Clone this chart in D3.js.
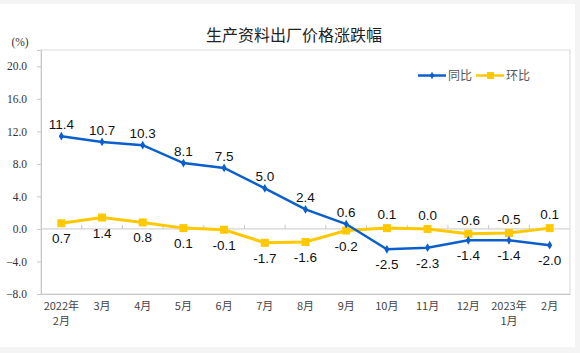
<!DOCTYPE html>
<html>
<head>
<meta charset="utf-8">
<script src="https://cdn.jsdelivr.net/npm/d3@7"></script>
<style>
  body { margin: 0; background: #f4f4f4; }
  svg { display: block; }
</style>
</head>
<body>
<svg id="chart"></svg>
<script>
const width = 580;
const height = 353;
const margin = { top: 50, right: 10, bottom: 59, left: 41 };

const months = [["2022年", "2月"], ["3月"], ["4月"], ["5月"], ["6月"], ["7月"], ["8月"], ["9月"], ["10月"], ["11月"], ["12月"], ["2023年", "1月"], ["2月"]];
const yoy = [11.4, 10.7, 10.3, 8.1, 7.5, 5.0, 2.4, 0.6, -2.5, -2.3, -1.4, -1.4, -2.0];
const mom = [0.7, 1.4, 0.8, 0.1, -0.1, -1.7, -1.6, -0.2, 0.1, 0.0, -0.6, -0.5, 0.1];
const yTicks = [-8, -4, 0, 4, 8, 12, 16, 20];

const blue = "#0b5fcc";
const yellow = "#ffc800";

const svg = d3.select("#chart")
  .attr("width", width)
  .attr("height", height);

// white card
svg.append("rect")
  .attr("x", 0).attr("y", 4)
  .attr("width", 575).attr("height", 343)
  .attr("fill", "#fff");

const x = d3.scaleBand()
  .domain(d3.range(months.length))
  .range([margin.left, width - margin.right]);

const y = d3.scaleLinear()
  .domain([-8, 22])
  .range([height - margin.bottom, margin.top]);

const cx = i => x(i) + x.bandwidth() / 2;

// frame
svg.append("rect")
  .attr("x", margin.left).attr("y", margin.top)
  .attr("width", width - margin.right - margin.left)
  .attr("height", y(-8) - margin.top)
  .attr("fill", "none")
  .attr("stroke", "#d9d9d9");

// y axis
const yAxis = svg.append("g")
  .attr("transform", `translate(${margin.left},0)`)
  .call(d3.axisLeft(y).tickValues(yTicks).tickSize(4).tickPadding(10).tickFormat(d3.format(".1f")));
yAxis.select(".domain").attr("stroke", "#c8c8c8");
yAxis.selectAll(".tick line").attr("stroke", "#c8c8c8");
yAxis.selectAll("text")
  .attr("font-family", "Liberation Serif, serif")
  .attr("font-size", 11.5)
  .attr("fill", "#333");

// bottom axis
const xAxis = svg.append("g")
  .attr("transform", `translate(0,${y(-8)})`)
  .call(d3.axisBottom(x).tickSize(0).tickFormat(""));
xAxis.select(".domain").attr("stroke", "#c8c8c8");

months.forEach((m, i) => {
  const t = svg.append("text")
    .attr("x", cx(i))
    .attr("y", y(-8) + 16)
    .attr("text-anchor", "middle")
    .attr("font-family", "Noto Sans CJK SC, sans-serif")
    .attr("font-size", 11)
    .attr("fill", "#444");
  m.forEach((s, k) => {
    t.append("tspan").attr("x", cx(i)).attr("dy", k === 0 ? 0 : 15).text(s);
  });
});

// zero line with small upward ticks between categories
svg.append("line")
  .attr("x1", margin.left).attr("x2", width - margin.right)
  .attr("y1", y(0)).attr("y2", y(0))
  .attr("stroke", "#c8c8c8");
svg.append("g")
  .selectAll("line")
  .data(d3.range(1, months.length))
  .join("line")
  .attr("x1", i => x(i)).attr("x2", i => x(i))
  .attr("y1", y(0)).attr("y2", y(0) - 4)
  .attr("stroke", "#c8c8c8");

// title
svg.append("text")
  .attr("x", 294).attr("y", 41)
  .attr("text-anchor", "middle")
  .attr("font-family", "Noto Sans CJK SC, sans-serif")
  .attr("font-size", 16)
  .attr("fill", "#222")
  .text("生产资料出厂价格涨跌幅");

svg.append("text")
  .attr("x", 20).attr("y", 46)
  .attr("text-anchor", "middle")
  .attr("font-family", "Liberation Serif, serif")
  .attr("font-size", 11.5)
  .attr("fill", "#333")
  .text("(%)");

const line = d3.line()
  .x((d, i) => cx(i))
  .y(d => y(d));

// 环比 line
svg.append("path")
  .datum(mom)
  .attr("fill", "none")
  .attr("stroke", yellow)
  .attr("stroke-width", 3)
  .attr("d", line);
svg.append("g")
  .selectAll("rect")
  .data(mom)
  .join("rect")
  .attr("x", (d, i) => cx(i) - 4)
  .attr("y", d => y(d) - 4)
  .attr("width", 8).attr("height", 8)
  .attr("fill", yellow);

// 同比 line
svg.append("path")
  .datum(yoy)
  .attr("fill", "none")
  .attr("stroke", blue)
  .attr("stroke-width", 2.5)
  .attr("d", line);
svg.append("g")
  .selectAll("path")
  .data(yoy)
  .join("path")
  .attr("transform", (d, i) => `translate(${cx(i)},${y(d)})`)
  .attr("d", d3.symbol(d3.symbolDiamond, 22))
  .attr("fill", blue);

// data labels
const labelFont = "Liberation Sans, Arial, sans-serif";
svg.append("g")
  .selectAll("text")
  .data(yoy)
  .join("text")
  .attr("x", (d, i) => cx(i))
  .attr("y", (d, i) => i < 8 ? y(d) - 7 : y(d) + 20)
  .attr("text-anchor", "middle")
  .attr("font-family", labelFont)
  .attr("font-size", 13.5)
  .attr("fill", "#111")
  .text(d => d.toFixed(1));

svg.append("g")
  .selectAll("text")
  .data(mom)
  .join("text")
  .attr("x", (d, i) => cx(i))
  .attr("y", (d, i) => i < 8 ? y(d) + 20 : y(d) - 9)
  .attr("text-anchor", "middle")
  .attr("font-family", labelFont)
  .attr("font-size", 13.5)
  .attr("fill", "#111")
  .text(d => d.toFixed(1));

// legend
const legend = [
  { name: "同比", color: blue, x: 418, marker: "diamond" },
  { name: "环比", color: yellow, x: 476, marker: "square" }
];
const lg = svg.append("g");
legend.forEach(l => {
  lg.append("line")
    .attr("x1", l.x).attr("x2", l.x + 28)
    .attr("y1", 75.5).attr("y2", 75.5)
    .attr("stroke", l.color)
    .attr("stroke-width", 2.5);
  if (l.marker === "square") {
    lg.append("rect")
      .attr("x", l.x + 11).attr("y", 72)
      .attr("width", 7).attr("height", 7)
      .attr("fill", l.color);
  } else {
    lg.append("path")
      .attr("transform", `translate(${l.x + 14},75.5)`)
      .attr("d", d3.symbol(d3.symbolDiamond, 16))
      .attr("fill", l.color);
  }
  lg.append("text")
    .attr("x", l.x + 30).attr("y", 80)
    .attr("font-family", "Noto Sans CJK SC, sans-serif")
    .attr("font-size", 12)
    .attr("fill", "#555")
    .text(l.name);
});
</script>
</body>
</html>
